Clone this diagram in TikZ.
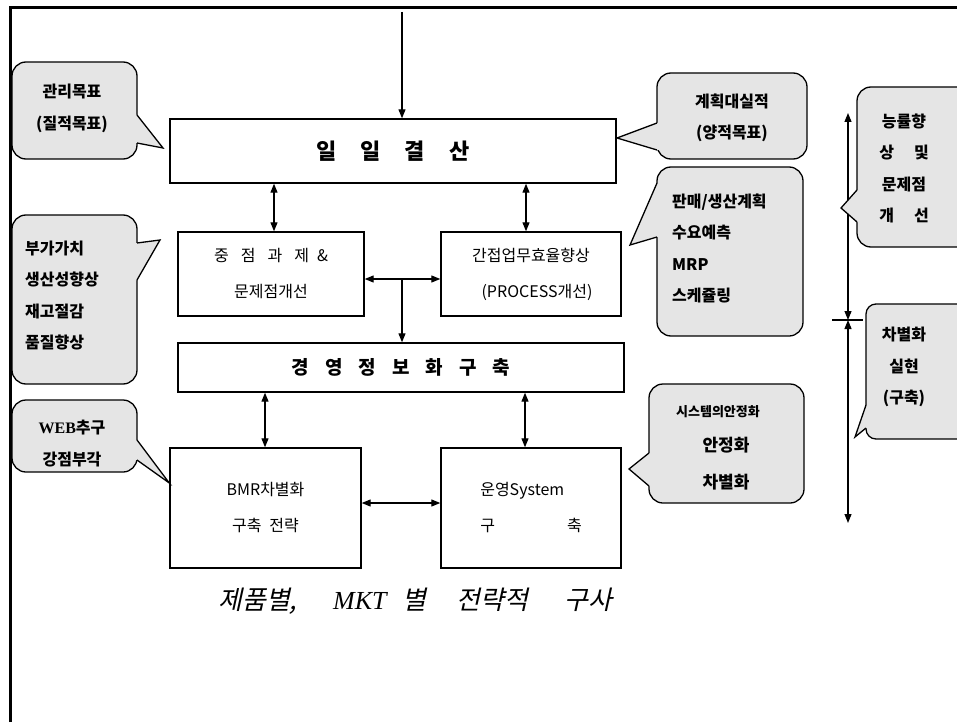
\documentclass[tikz,border=0pt]{standalone}
\usepackage{fontspec}
\setmainfont{Noto Sans CJK KR}
\newfontfamily\seriffont{Liberation Serif}
\newfontfamily\slantkr[FakeSlant=0.22]{Noto Sans CJK KR}
\usetikzlibrary{arrows.meta,calc}
\newcommand\ptr[4]{%
  \fill[black!10] #1 -- #2 -- #3 -- ($#3+#4$) -- ($#1+#4$) -- cycle;
  \draw[line width=1.3pt] #1 -- #2 -- #3;}
\begin{document}
\begin{tikzpicture}[x=1pt,y=-1pt,
  box/.style={draw, line width=1.4pt, inner sep=0pt, align=center},
  btext/.style={font=\fontsize{16}{36}\selectfont},
  callout/.style={draw, line width=1.3pt, fill=black!10, rounded corners=14pt},
  ctext/.style={font=\fontsize{16}{31.5}\selectfont\bfseries, inner sep=0pt},
  arr/.style={line width=1.2pt, -{Triangle[length=9pt,width=7pt]}},
  darr/.style={line width=1.2pt, {Triangle[length=9pt,width=7pt]}-{Triangle[length=9pt,width=7pt]}},
]
\useasboundingbox (0,0) rectangle (957,722);
\clip (0,0) rectangle (957,722);
% frame
\draw[line width=3pt] (10,722) -- (10,8) -- (962,8);

% boxes
\node[box, minimum width=446pt, minimum height=64pt, font=\fontsize{22}{26}\selectfont\bfseries] (ilil) at (393,151) {일\hspace{24pt}일\hspace{24pt}결\hspace{24pt}산};
\node[box, btext, minimum width=186pt, minimum height=84pt] (jung) at (271,274) {중\hspace{12pt}점\hspace{12pt}과\hspace{12pt}제\hspace{8pt}\&\\문제점개선};
\node[box, btext, minimum width=180pt, minimum height=84pt] (gan) at (531,274) {간접업무효율향상\\\hspace{12pt}(PROCESS개선)};
\node[box, minimum width=446pt, minimum height=49pt, font=\fontsize{19}{24}\selectfont\bfseries] (kyung) at (401,367.5) {경\hspace{16pt}영\hspace{16pt}정\hspace{16pt}보\hspace{16pt}화\hspace{16pt}구\hspace{16pt}축};
\node[box, btext, minimum width=191pt, minimum height=120pt] (bmr) at (265.5,508) {BMR차별화\\구축\hspace{8pt}전략};
\node[box, btext, minimum width=180pt, minimum height=120pt, align=left] (un) at (531,508) {운영System\\구\hspace{72pt}축};

% connectors
\coordinate (topin) at (402,12);
\coordinate (x1) at (274,0);
\coordinate (x2) at (526,0);
\coordinate (jn) at (402,279);
\coordinate (x3) at (265,0);
\coordinate (x4) at (525,0);
\coordinate (y5) at (0,503);
\draw[arr] (topin) -- (topin |- ilil.north);
\draw[darr] (ilil.south -| x1) -- (jung.north -| x1);
\draw[darr] (ilil.south -| x2) -- (gan.north -| x2);
\draw[darr] (jung.east |- jn) -- (gan.west |- jn);
\draw[arr] (jn) -- (jn |- kyung.north);
\draw[darr] (kyung.south -| x3) -- (bmr.north -| x3);
\draw[darr] (kyung.south -| x4) -- (un.north -| x4);
\draw[darr] (bmr.east |- y5) -- (un.west |- y5);

% right side arrows
\coordinate (rtop) at (848,113);
\coordinate (rmid) at (848,320);
\coordinate (rbot) at (848,523);
\coordinate (tickl) at (832,320);
\coordinate (tickr) at (863,320);
\draw[darr] (rtop) -- (rmid);
\draw[darr] (rmid) -- (rbot);
\draw[line width=1.2pt] (tickl) -- (tickr);

% callouts
\draw[callout] (12,62) rectangle (137,159);
\ptr{(137,115)}{(163,148)}{(137,143)}{(-4,0)}
\node[ctext, align=center] (c1) at (72,108.5) {관리목표\\(질적목표)};

\draw[callout] (657,73) rectangle (807,159);
\ptr{(657,123)}{(617,138)}{(657,150)}{(4,0)}
\node[ctext, align=center] (c2) at (732,118) {계획대실적\\(양적목표)};

\draw[callout] (12,215) rectangle (137,384);
\ptr{(137,243)}{(160,240)}{(137,280)}{(-4,0)}
\node[ctext, align=left, anchor=west] (c3) at (25,295.5) {부가가치\\생산성향상\\재고절감\\품질향상};

\draw[callout] (657,167) rectangle (803,336);
\ptr{(657,183)}{(630,245)}{(657,237)}{(4,0)}
\node[ctext, align=left, anchor=west] (c4) at (672,248.5) {판매/생산계획\\수요예측\\MRP\\스케쥴링};

\coordinate (c5tip) at (bmr.west |- 0,483);
\draw[callout] (12,400) rectangle (137,472);
\ptr{(137,440)}{(c5tip)}{(137,460)}{(-4,0)}
\node[ctext, align=center] (c5) at (72,443.5) {{\seriffont WEB}추구\\강점부각};

\draw[callout] (649,384) rectangle (804,503);
\ptr{(649,453)}{(629,469)}{(649,486)}{(4,0)}
\node[ctext, font=\fontsize{13}{16}\selectfont\bfseries] (c6a) at (718,412) {시스템의안정화};
\node[ctext, font=\fontsize{17}{20}\selectfont\bfseries] (c6b) at (726,445) {안정화};
\node[ctext, font=\fontsize{17}{20}\selectfont\bfseries] (c6c) at (726,482) {차별화};

\draw[callout] (857,87) rectangle (995,247);
\ptr{(857,190)}{(841,208)}{(857,222)}{(4,0)}
\node[ctext, align=center] (c7) at (904,168.5) {능률향\\상\hspace{20pt}및\\문제점\\개\hspace{20pt}선};

\draw[callout, rounded corners=10pt] (866,304) rectangle (995,439);
\ptr{(866,405)}{(855,437)}{(866,428)}{(4,0)}
\node[ctext, align=center] (c8) at (904,367) {차별화\\실현\\(구축)};

% bottom caption
\node[anchor=west, inner sep=0pt, font=\fontsize{26}{30}\selectfont\slantkr] (cap) at (218,601) {제품별,\hspace{36pt}{\seriffont\itshape MKT}\hspace{16pt}별\hspace{30pt}전략적\hspace{36pt}구사};
\end{tikzpicture}
\end{document}
